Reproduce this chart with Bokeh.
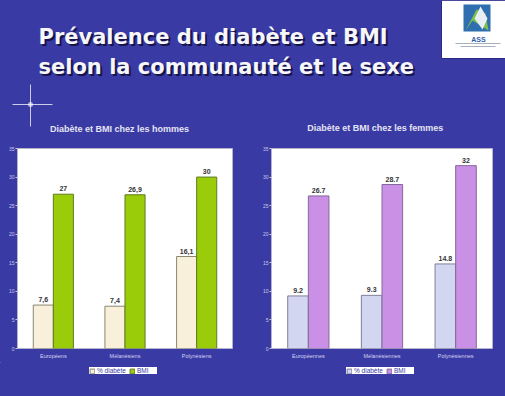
from bokeh.plotting import figure
from bokeh.layouts import column, row
from bokeh.models import Range1d, FactorRange, Legend, LegendItem, ColumnDataSource, FixedTicker
from bokeh.transform import dodge
from bokeh.core.properties import value
from bokeh.embed import file_html
from bokeh.resources import INLINE

# ---- data ----
title_lines = ["Prévalence du diabète et BMI", "selon la communauté et le sexe"]
men_title = "Diabète et BMI chez les hommes"
women_title = "Diabète et BMI  chez les femmes"
series_names = ["% diabète", "BMI"]
men_cats = ["Européens", "Mélanésiens", "Polynésiens"]
women_cats = ["Européennes", "Mélanésiennes", "Polynésiennes"]
men_diab = [7.6, 7.4, 16.1]
men_bmi = [27, 26.9, 30]
women_diab = [9.2, 9.3, 14.8]
women_bmi = [26.7, 28.7, 32]
y_ticks = [0, 5, 10, 15, 20, 25, 30, 35]

BG = "#3a3aa5"
FONT = value("Liberation Sans")
MEN_COLORS = ('#f8f0da', '#8a8670', '#9acc0a', '#5f7a20')
WOMEN_COLORS = ('#d3d6f0', '#80809a', '#c990e6', '#85689a')


def fmt(v, sep):
    return f"{v:g}".replace(".", sep)


def chart(cats, diab, bmi, sep, colors, width, bl, br):
    c_d, l_d, c_b, l_b = colors
    p = figure(x_range=FactorRange(*cats), y_range=Range1d(0, 35), width=width, height=222,
               output_backend="svg", toolbar_location=None,
               min_border_left=bl, min_border_right=br, min_border_top=8, min_border_bottom=14,
               background_fill_color="white", border_fill_color=BG,
               outline_line_color="#b4b4cc")
    src = ColumnDataSource(dict(cat=cats, d=diab, b=bmi,
                                dl=[fmt(v, sep) for v in diab],
                                bl=[fmt(v, sep) for v in bmi]))
    p.vbar(x=dodge('cat', -0.14, range=p.x_range), top='d', width=0.28, source=src,
           fill_color=c_d, line_color=l_d, line_width=1)
    p.vbar(x=dodge('cat', 0.14, range=p.x_range), top='b', width=0.28, source=src,
           fill_color=c_b, line_color=l_b, line_width=1)
    for off, col in ((-0.14, 'd'), (0.14, 'b')):
        p.text(x=dodge('cat', off, range=p.x_range), y=col, text=col + 'l', source=src,
               text_align='center', text_baseline='bottom', y_offset=-3,
               text_font=FONT, text_font_size='7px', text_font_style='bold', text_color='#333333')
    p.xgrid.grid_line_color = None
    p.ygrid.grid_line_color = None
    p.yaxis.ticker = FixedTicker(ticks=y_ticks)
    p.yaxis.major_label_text_font_size = '5px'
    p.yaxis.major_label_text_color = '#c8c8e8'
    p.yaxis.major_label_text_font = 'Liberation Sans'
    p.yaxis.axis_line_color = None
    p.yaxis.major_tick_line_color = '#c8c8e8'
    p.yaxis.major_tick_out = 2
    p.yaxis.major_tick_in = 0
    p.yaxis.minor_tick_line_color = None
    p.yaxis.major_label_standoff = 1
    p.xaxis.major_label_text_font_size = '5.5px'
    p.xaxis.major_label_text_color = '#d4d4f0'
    p.xaxis.major_label_text_font = 'Liberation Sans'
    p.xaxis.axis_line_color = None
    p.xaxis.major_tick_line_color = None
    p.xaxis.major_tick_out = 0
    p.xaxis.major_tick_in = 0
    p.xaxis.major_label_standoff = 4
    return p


# ---- header ----
h = figure(width=505, height=140, x_range=Range1d(0, 505), y_range=Range1d(140, 0),
           output_backend="svg", toolbar_location=None, min_border=0,
           x_axis_type=None, y_axis_type=None,
           background_fill_color=BG, border_fill_color=BG, outline_line_color=None)
h.xgrid.grid_line_color = None
h.ygrid.grid_line_color = None
tsrc = ColumnDataSource(dict(x=[38, 38], y=[36, 66], t=title_lines))
h.text(x='x', y='y', text='t', source=tsrc, x_offset=2, y_offset=2,
       text_font=value("DejaVu Sans"), text_font_size='21px', text_font_style='bold',
       text_color='#15154a', text_baseline='alphabetic')
h.text(x='x', y='y', text='t', source=tsrc,
       text_font=value("DejaVu Sans"), text_font_size='21px', text_font_style='bold',
       text_color='#f6f6fb', text_baseline='alphabetic')
# sparkle
h.segment(x0=[30, 12], y0=[84, 104], x1=[30, 52], y1=[126, 104], line_color='white',
          line_alpha=0.75, line_width=1)
h.scatter(x=[30], y=[104], size=5, fill_color='white', fill_alpha=0.6, line_color=None)
# logo
h.quad(left=[441], right=[505], top=[0], bottom=[58], fill_color='white', line_color='#2a2a80')
h.quad(left=[463], right=[490], top=[4], bottom=[31], fill_color='#2f6fb0', line_color=None)
h.patch(x=[465, 476, 485, 488, 472], y=[30, 9, 13, 30, 20], fill_color='#7cc04a', line_color=None)
h.patch(x=[474, 480, 487, 482], y=[18, 6, 18, 29], fill_color='#e8eef4', line_color=None)
h.text(x=[478], y=[39], text=["ASS"], text_align='center', text_baseline='alphabetic',
       text_font=FONT, text_font_size='7px', text_font_style='bold', text_color='#2f5fa8')
h.segment(x0=[455, 460], y0=[43, 46], x1=[500, 495], y1=[43, 46], line_color='#8090a0',
          line_width=1, line_alpha=0.7)
# chart subtitles
ssrc = ColumnDataSource(dict(x=[119, 376], y=[128, 127], t=[men_title, women_title]))
h.text(x='x', y='y', text='t', source=ssrc, text_align='center', text_baseline='middle',
       text_font=FONT, text_font_size='9px', text_font_style='bold', text_color='#e4e4f2')

left = chart(men_cats, men_diab, men_bmi, ",", MEN_COLORS, 252, 17, 20)
right = chart(women_cats, women_diab, women_bmi, ".", WOMEN_COLORS, 253, 19, 13)

# ---- legend strip ----
s = figure(width=505, height=34, x_range=Range1d(0, 505), y_range=Range1d(34, 0),
           output_backend="svg", toolbar_location=None, min_border=0,
           x_axis_type=None, y_axis_type=None,
           background_fill_color=BG, border_fill_color=BG, outline_line_color=None)
s.xgrid.grid_line_color = None
s.ygrid.grid_line_color = None
for colors, loc in ((MEN_COLORS, (89, 22)), (WOMEN_COLORS, (346, 22))):
    c_d, l_d, c_b, l_b = colors
    rd = s.vbar(x=[-1000], top=[-1000], width=1, fill_color=c_d, line_color=l_d)
    rb = s.vbar(x=[-1000], top=[-1000], width=1, fill_color=c_b, line_color=l_b)
    lg = Legend(items=[LegendItem(label=series_names[0], renderers=[rd]),
                       LegendItem(label=series_names[1], renderers=[rb])],
                location=loc, orientation='horizontal',
                background_fill_color='white', background_fill_alpha=1,
                border_line_color=None, padding=1, spacing=3, margin=0,
                glyph_width=6, glyph_height=6, label_height=6, label_standoff=2,
                label_text_font_size='6.5px', label_text_color=BG,
                label_text_font='Liberation Sans')
    s.add_layout(lg, 'center')

layout = column(h, row(left, right, styles={"background-color": BG}), s,
                styles={"background-color": BG})
open("out.html", "w").write(file_html(layout, INLINE))
